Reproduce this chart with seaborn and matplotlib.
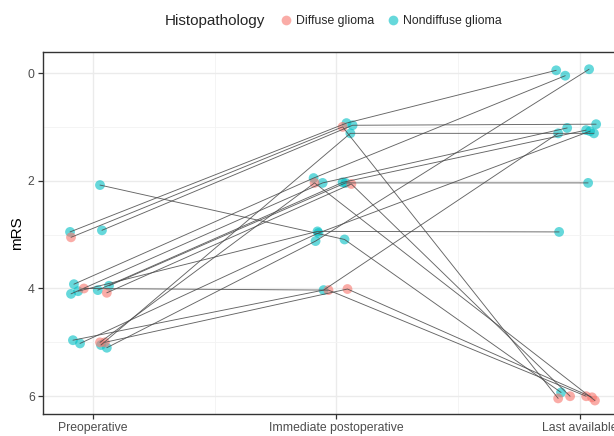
import matplotlib
matplotlib.use("Agg")
import matplotlib.pyplot as plt
import seaborn as sns
import pandas as pd
from matplotlib.lines import Line2D
from matplotlib.ticker import FixedLocator

# ---- data ----
time_labels = ["Preoperative", "Immediate postoperative", "Last available"]
groups = ["Diffuse glioma", "Nondiffuse glioma"]

patient = ["N1", "N2", "N3", "N4", "N5", "N6", "N7", "N8", "N9", "N10", "N11", "N12",
           "D1", "D2", "D3", "D4", "D5"]
histology = ["Nondiffuse glioma"] * 12 + ["Diffuse glioma"] * 5

# observed (jittered) mRS values
mrs_pre = [2.08, 2.95, 2.92, 3.92, 4.05, 4.10, 4.03, 3.95, 4.96, 5.02, 5.05, 5.10,
           3.05, 4.00, 4.08, 5.00, 5.00]
mrs_post = [3.09, 0.93, 0.97, 1.95, 2.94, 2.04, 2.03, 2.04, 4.03, 2.97, 1.12, 3.12,
            1.00, 4.03, 2.06, 2.04, 4.01]
mrs_last = [5.93, -0.05, 0.95, 0.05, 2.95, 1.02, 1.06, 2.04, 1.12, 1.08, 1.12, -0.07,
            6.04, 6.00, 6.00, 6.08, 6.02]

# observed horizontal jitter around each time point
jit_pre = [0.029, -0.094, 0.037, -0.078, -0.061, -0.090, 0.020, 0.066, -0.082, -0.053,
           0.033, 0.057, -0.090, -0.037, 0.057, 0.029, 0.049]
jit_post = [0.033, 0.041, 0.066, -0.094, -0.078, -0.057, 0.025, 0.037, -0.053, -0.074,
            0.057, -0.086, 0.025, -0.033, 0.061, -0.090, 0.045]
jit_last = [-0.078, -0.098, 0.066, -0.061, -0.086, -0.053, 0.025, 0.033, -0.090, 0.041,
            0.057, 0.037, -0.090, 0.025, -0.041, 0.061, 0.049]

y_ticks = [0, 2, 4, 6]

# ---- long table ----
rows = []
for t, (vals, jit) in enumerate([(mrs_pre, jit_pre), (mrs_post, jit_post), (mrs_last, jit_last)]):
    for p, h, v, j in zip(patient, histology, vals, jit):
        rows.append({"patient": p, "Histopathology": h, "time": t + 1 + j, "mRS": v})
df = pd.DataFrame(rows)

palette = {"Diffuse glioma": "#F8766D", "Nondiffuse glioma": "#00BFC4"}

sns.set_theme(style="white")
plt.rcParams["font.family"] = ["Liberation Sans", "DejaVu Sans"]

fig = plt.figure(figsize=(6.14, 4.36), dpi=100)
ax = fig.add_axes([43 / 614, 1 - 414 / 436, (630 - 43) / 614, (414 - 52) / 436])

sns.scatterplot(data=df, x="time", y="mRS", hue="Histopathology", palette=palette,
                hue_order=groups, s=50, alpha=0.6, edgecolor="none", legend=False,
                ax=ax, zorder=3)
sns.lineplot(data=df, x="time", y="mRS", units="patient", estimator=None, sort=False,
             color="#4a4a4a", lw=0.65, alpha=0.85, ax=ax, zorder=4, legend=False)

ax.set_xlim(0.795, 3.205)
ax.set_ylim(6.33, -0.39)
ax.xaxis.set_major_locator(FixedLocator([1, 2, 3]))
ax.set_xticklabels(time_labels)
ax.xaxis.set_minor_locator(FixedLocator([1.5, 2.5]))
ax.yaxis.set_major_locator(FixedLocator(y_ticks))
ax.set_yticklabels([str(v) for v in y_ticks])
ax.yaxis.set_minor_locator(FixedLocator([1, 3, 5]))

ax.grid(which="major", color="#EBEBEB", lw=1.0, zorder=0)
ax.grid(which="minor", color="#F3F3F3", lw=0.6, zorder=0)
ax.set_axisbelow(True)
for s in ax.spines.values():
    s.set_color("#333333")
    s.set_linewidth(1.0)
ax.tick_params(which="major", direction="out", length=3.5, width=0.9, color="#333333",
               labelsize=8.8, labelcolor="#4D4D4D", pad=2.5, bottom=True, left=True)
ax.tick_params(which="minor", length=0)
ax.set_xlabel("")
ax.set_ylabel("mRS", fontsize=11, color="black", labelpad=3)

fig.text(165 / 614, 1 - 21 / 436, "Histopathology", fontsize=11, va="center", ha="left")
handles = [Line2D([], [], marker="o", ls="none", markersize=7, markerfacecolor=palette[g],
                  markeredgecolor="none", alpha=0.6) for g in groups]
fig.legend(handles, groups, loc="center left", bbox_to_anchor=(273 / 614, 1 - 21 / 436),
           ncol=2, frameon=False, fontsize=8.8, handletextpad=0.15, columnspacing=1.0,
           borderpad=0, handlelength=1.2)

fig.savefig("out.png", dpi=100)
